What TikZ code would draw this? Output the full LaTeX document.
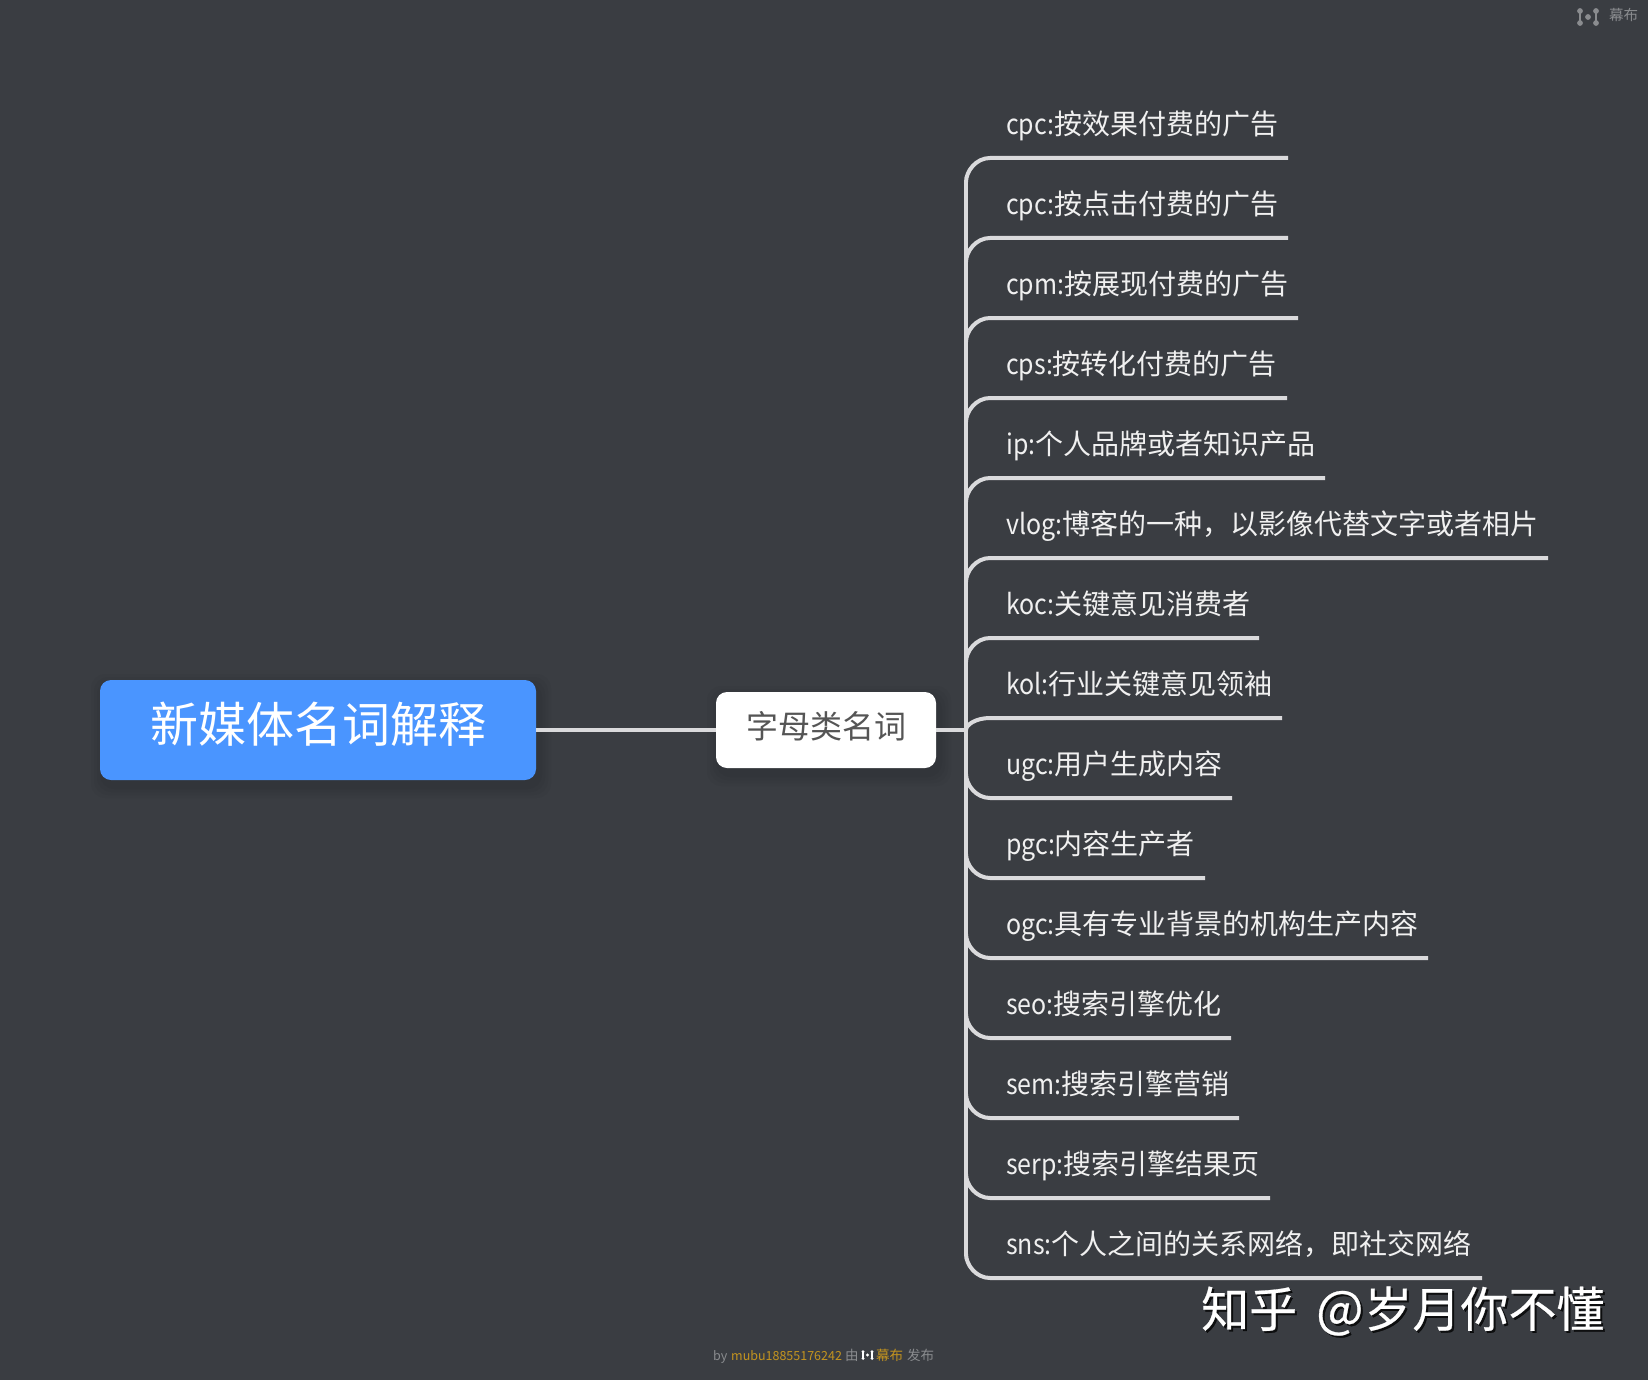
\documentclass[tikz,border=0pt]{standalone}
\usepackage{fontspec}
\setmainfont{Noto Sans CJK SC}
\newfontfamily\narrowlat[FakeStretch=0.89]{Noto Sans CJK SC}
\newfontfamily\markfont[FakeBold=0.5]{Noto Sans CJK SC}
\definecolor{bgc}{HTML}{3A3D42}
\definecolor{linec}{HTML}{DADADC}
\definecolor{rootc}{HTML}{4A95FF}
\definecolor{leaftxt}{HTML}{F0F0F0}
\definecolor{midtxt}{HTML}{555555}
\definecolor{footgrey}{HTML}{8A8C8F}
\definecolor{footgold}{HTML}{C4941F}
\newcommand{\fsz}[1]{\fontsize{#1}{#1}\selectfont}
\newcommand{\lat}[1]{{\narrowlat #1}}
\tikzset{
  conn/.style={draw=linec,line width=4pt},
  rootbox/.style={fill=rootc,rounded corners=11pt,minimum width=436pt,minimum height=100pt,inner sep=0pt,text=white},
  midbox/.style={fill=white,rounded corners=11pt,minimum width=220pt,minimum height=76pt,inner sep=0pt,text=midtxt},
  leaftext/.style={anchor=base west,inner sep=0pt,text=leaftxt},
  plain/.style={anchor=base west,inner sep=0pt},
  softshadow/.style={fill=black,opacity=0.025},
}
\newcommand{\mubulogo}[4]{% colour, centre x, half width, centre y
  \fill[#1] (#2-#3,#4-#3*0.75) circle (#3*0.36) (#2+#3,#4-#3*0.75) circle (#3*0.36)
            (#2-#3,#4+#3*0.75) circle (#3*0.36) (#2+#3,#4+#3*0.75) circle (#3*0.36)
            (#2,#4) circle (#3*0.36);
  \draw[#1,line width=#3*0.3] (#2-#3,#4-#3*0.75) -- (#2-#3,#4+#3*0.75) (#2+#3,#4-#3*0.75) -- (#2+#3,#4+#3*0.75);
}
\begin{document}
\begin{tikzpicture}[x=1pt,y=-1pt]
\useasboundingbox (0,0) rectangle (1648,1380);
\fill[bgc] (0,0) rectangle (1648,1380);
% soft shadows
\foreach \g in {12,9,6,3}{
  \fill[softshadow,rounded corners=14pt] (100-\g+3,680-\g+6) rectangle (536+\g+3,780+\g+6);
  \fill[softshadow,rounded corners=14pt] (716-\g+3,692-\g+6) rectangle (936+\g+3,768+\g+6);
}
% trunk end points
\coordinate (ttop) at (966,182);
\coordinate (tbot) at (966,1254);
\coordinate (tmid) at (966,730);
\draw[conn] (ttop) -- (tbot);
% leaves: index / line y / curve start y / line end x / text
\foreach \i/\y/\s/\e/\t in {
 1/158/182/1288/{\lat{cpc:}按效果付费的广告},
 2/238/262/1288/{\lat{cpc:}按点击付费的广告},
 3/318/342/1298/{\lat{cpm:}按展现付费的广告},
 4/398/422/1287/{\lat{cps:}按转化付费的广告},
 5/478/502/1325/{\lat{ip:}个人品牌或者知识产品},
 6/558/582/1548/{\lat{vlog:}博客的一种，以影像代替文字或者相片},
 7/638/662/1259/{\lat{koc:}关键意见消费者},
 8/718/730/1282/{\lat{kol:}行业关键意见领袖},
 9/798/774/1232/{\lat{ugc:}用户生成内容},
 10/878/854/1205/{\lat{pgc:}内容生产者},
 11/958/934/1428/{\lat{ogc:}具有专业背景的机构生产内容},
 12/1038/1014/1231/{\lat{seo:}搜索引擎优化},
 13/1118/1094/1239/{\lat{sem:}搜索引擎营销},
 14/1198/1174/1270/{\lat{serp:}搜索引擎结果页},
 15/1278/1254/1482/{\lat{sns:}个人之间的关系网络，即社交网络}}{
  \node[leaftext] (leaf\i) at (1006,\y-23.5) {\fsz{28}\t};
  \coordinate (from\i) at (966,\s);
  \coordinate (to\i) at (\e,\y);
  \draw[conn] (from\i) .. controls (966,{\s+0.45*(\y-\s)}) and (976,\y) .. (990,\y) -- (to\i);
}
% central nodes
\node[rootbox] (root) at (318,730) {\raisebox{15pt}{\fsz{48}新媒体名词解释}};
\node[midbox] (mid) at (826,730) {\raisebox{10pt}{\fsz{32}字母类名词}};
\draw[conn] (root.east) -- (mid.west);
\draw[conn] (mid.east) -- (tmid);
% watermark
\node[plain,text=black,opacity=0.75] (markshadow) at (1203,1329) {\markfont\fsz{48}知乎\hspace{19pt}\fsz{50}@\hspace{1pt}\fsz{48}岁月你不懂};
\node[plain,text=white] (mark) at (1201,1327) {\markfont\fsz{48}知乎\hspace{19pt}\fsz{50}@\hspace{1pt}\fsz{48}岁月你不懂};
% top-right brand
\mubulogo{footgrey}{1588}{8}{17}
\node[plain,text=footgrey] (brand) at (1609,21) {\fsz{14.5}幕布};
% footer
\node[plain,text=footgrey] (fby) at (713,1360) {\fsz{12.5}by};
\node[plain,text=footgold] (fuser) at (731,1360) {\fsz{12.5}mubu18855176242};
\node[plain,text=footgrey] (fyou) at (845,1360) {\fsz{13.5}由};
\mubulogo{white}{867.5}{4.5}{1355}
\node[plain,text=footgold] (fmu) at (876,1360) {\fsz{13.5}幕布};
\node[plain,text=footgrey] (fpub) at (907,1360) {\fsz{13.5}发布};
\end{tikzpicture}
\end{document}
